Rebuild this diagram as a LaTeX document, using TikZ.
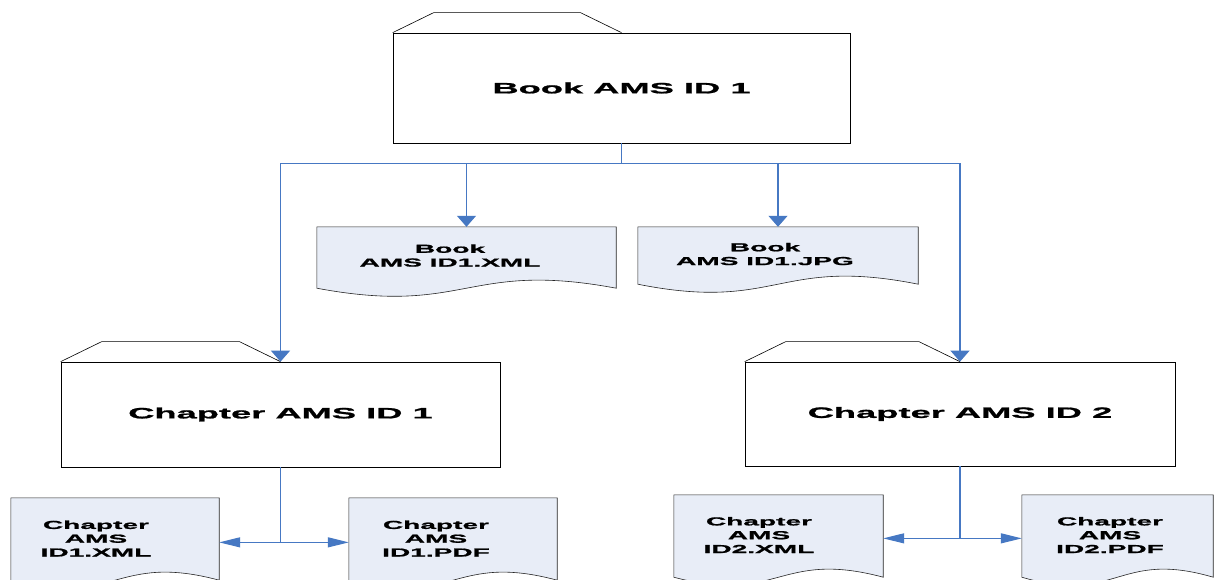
\documentclass[tikz,border=0pt]{standalone}
\usepackage{fontspec}
\newfontfamily\wf{Liberation Sans}[FakeStretch=2.42, FakeBold=1.3]
\usetikzlibrary{arrows.meta,calc}
\definecolor{conn}{RGB}{70,120,195}
\definecolor{docfill}{RGB}{232,237,247}
\tikzset{
  folderbox/.style={draw=black, line width=0.7pt, fill=white, inner sep=0pt},
  tabline/.style={draw=black, line width=0.6pt},
  docbox/.style={inner sep=0pt},
  docline/.style={fill=docfill, draw=black!85, line width=0.6pt},
  bigtxt/.style={font=\wf\bfseries\fontsize{15}{18}\selectfont},
  smalltxt/.style={font=\wf\bfseries\fontsize{11.6}{13.8}\selectfont, align=center, inner sep=0pt},
  link/.style={draw=conn, line width=1.1pt},
  vtip/.style={-{Triangle[length=11pt,width=19pt]}},
  htip/.style={-{Triangle[length=21pt,width=10pt]}},
}
\newcommand\docoutline[1]{\path[docline] (#1.north west) -- (#1.north east) -- (#1.south east)
  .. controls ($(#1.south)+(0,-28)$) and ($(#1.south)+(0,28)$) .. (#1.south west) -- cycle;}
\newcommand\foldertab[1]{\path[tabline] (#1.north west) -- ++(41,-20) -- ($(#1.north)+(-41,-20)$) -- (#1.north);}
\begin{document}
\begin{tikzpicture}[x=1pt,y=-1pt]
\fill[white] (0,0) rectangle (1228,579);
\useasboundingbox (0,0) rectangle (1228,579);

% folder boxes
\node[folderbox, minimum width=457pt, minimum height=110pt, bigtxt] (book) at (621.5,88) {Book AMS ID 1};
\foldertab{book}
\node[folderbox, minimum width=439pt, minimum height=105pt, bigtxt] (ch1) at (280.5,414.5) {Chapter AMS ID 1};
\foldertab{ch1}
\node[folderbox, minimum width=430pt, minimum height=104pt, bigtxt] (ch2) at (960,414) {Chapter AMS ID 2};
\foldertab{ch2}

% document shapes
\node[docbox, minimum width=299pt, minimum height=61pt] (bx) at (466.5,257.5) {};
\node[docbox, minimum width=280pt, minimum height=57pt] (bj) at (778,255.5) {};
\node[docbox, minimum width=208pt, minimum height=82pt] (c1x) at (115,539) {};
\node[docbox, minimum width=208pt, minimum height=82pt] (c1p) at (453,539) {};
\node[docbox, minimum width=209pt, minimum height=82pt] (c2x) at (778.5,536) {};
\node[docbox, minimum width=191pt, minimum height=82pt] (c2p) at (1117.5,536) {};
\docoutline{bx}
\docoutline{bj}
\docoutline{c1x}
\docoutline{c1p}
\docoutline{c2x}
\docoutline{c2p}

\node[smalltxt] (bxt) at (450,255.5) {Book\\AMS ID1.XML};
\node[smalltxt] (bjt) at (765,254) {Book\\AMS ID1.JPG};
\node[smalltxt] (c1xt) at (96,538.5) {Chapter\\AMS\\ID1.XML};
\node[smalltxt] (c1pt) at (436,538.5) {Chapter\\AMS\\ID1.PDF};
\node[smalltxt] (c2xt) at (759,535) {Chapter\\AMS\\ID2.XML};
\node[smalltxt] (c2pt) at (1110,535) {Chapter\\AMS\\ID2.PDF};

% connectors from the book
\coordinate (j0) at ($(book.south)+(0,20)$);
\draw[link] (book.south) -- (j0);
\draw[link,vtip] (j0) -| (ch1.north);
\draw[link,vtip] (j0) -| (bx.north);
\draw[link,vtip] (j0) -| (bj.north);
\draw[link,vtip] (j0) -| (ch2.north);

% connectors from chapter 1
\coordinate (j1) at ($(ch1.south)+(0,75)$);
\draw[link] (ch1.south) -- (j1);
\draw[link,htip] (j1) -- (j1 -| c1x.east);
\draw[link,htip] (j1) -- (j1 -| c1p.west);

% connectors from chapter 2
\coordinate (j2) at ($(ch2.south)+(0,72)$);
\draw[link] (ch2.south) -- (j2);
\draw[link,htip] (j2) -- (j2 -| c2x.east);
\draw[link,htip] (j2) -- (j2 -| c2p.west);
\end{tikzpicture}
\end{document}
